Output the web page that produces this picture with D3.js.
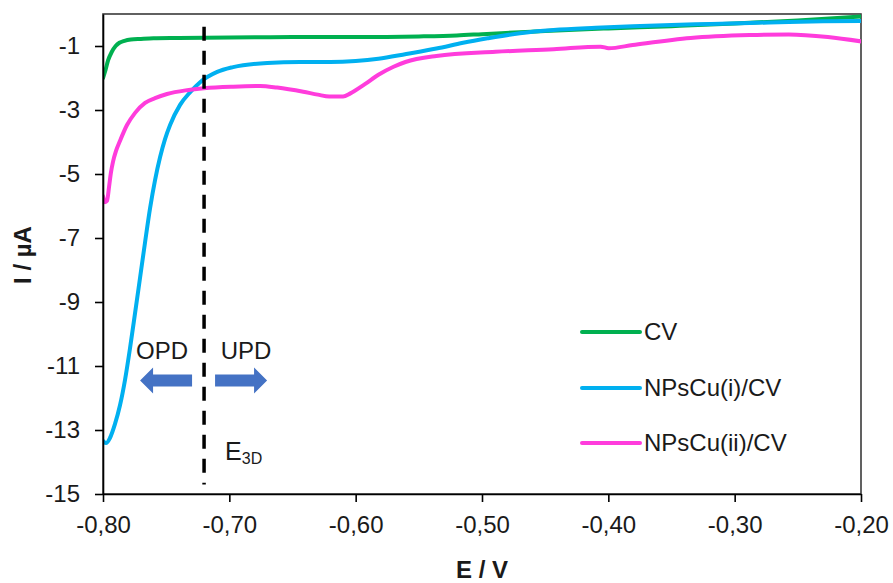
<!DOCTYPE html>
<html><head><meta charset="utf-8">
<script src="https://cdn.jsdelivr.net/npm/d3@7"></script>
<style>body{margin:0;background:#fff}svg{display:block;font-family:"Liberation Sans",Arial,sans-serif}</style>
</head><body><svg id="c" width="893" height="583"></svg>
<script>
// ---- data ----
const cvE = [-0.800,-0.798,-0.796,-0.793,-0.790,-0.787,-0.783,-0.778,-0.770,-0.760,-0.740,-0.720,-0.680,-0.650,-0.600,-0.550,-0.520,-0.500,-0.470,-0.450,-0.400,-0.350,-0.300,-0.250,-0.200];
const cvI = [-2.00,-1.75,-1.45,-1.18,-1.00,-0.90,-0.84,-0.80,-0.78,-0.76,-0.75,-0.74,-0.73,-0.72,-0.72,-0.70,-0.67,-0.63,-0.57,-0.53,-0.45,-0.38,-0.30,-0.20,-0.08];

const npiE = [-0.8000,-0.7976,-0.7945,-0.7905,-0.7865,-0.7826,-0.7786,-0.7746,-0.7707,-0.7667,-0.7627,-0.7588,-0.7548,-0.7509,-0.7469,-0.7390,-0.7310,-0.7231,-0.7096,-0.6970,-0.6700,-0.6439,-0.6200,-0.6000,-0.5820,-0.5600,-0.5361,-0.5150,-0.4956,-0.4700,-0.4433,-0.4100,-0.3807,-0.3500,-0.3189,-0.2880,-0.2571,-0.2300,-0.2000];
const npiI = [-13.34,-13.41,-13.25,-12.81,-12.22,-11.44,-10.44,-9.34,-8.25,-7.13,-6.06,-5.19,-4.47,-3.91,-3.47,-2.84,-2.44,-2.13,-1.81,-1.66,-1.53,-1.50,-1.50,-1.47,-1.40,-1.25,-1.08,-0.90,-0.76,-0.60,-0.50,-0.43,-0.38,-0.34,-0.31,-0.28,-0.25,-0.23,-0.22];

const npiiE = [-0.8000,-0.7984,-0.7968,-0.7952,-0.7937,-0.7921,-0.7897,-0.7865,-0.7810,-0.7746,-0.7667,-0.7588,-0.7493,-0.7334,-0.7200,-0.6970,-0.6756,-0.6621,-0.6415,-0.6300,-0.6209,-0.6100,-0.6042,-0.5930,-0.5820,-0.5700,-0.5606,-0.5361,-0.4893,-0.4433,-0.4061,-0.3997,-0.3807,-0.3348,-0.2880,-0.2571,-0.2262,-0.1992];
const npiiI = [-5.69,-5.88,-5.84,-5.40,-4.95,-4.62,-4.28,-3.96,-3.47,-3.09,-2.78,-2.63,-2.50,-2.38,-2.32,-2.27,-2.25,-2.30,-2.43,-2.52,-2.58,-2.58,-2.48,-2.20,-1.90,-1.65,-1.50,-1.31,-1.18,-1.10,-1.02,-1.07,-0.97,-0.75,-0.66,-0.64,-0.72,-0.86];

const seriesNames = ["CV", "NPsCu(i)/CV", "NPsCu(ii)/CV"];
const xTicks = [-0.80, -0.70, -0.60, -0.50, -0.40, -0.30, -0.20];
const yTicks = [-1, -3, -5, -7, -9, -11, -13, -15];
const e3dPotential = -0.72;
const e3dCurrentRange = [-0.4, -14.7];

// ---- styling ----
const colors = ["#00B050", "#00B0F0", "#FF3CDC"];
const arrowColor = "#4472C4";
const textColor = "#1a1a1a";

const svg = d3.select("#c");
const L = 103, R = 861, T = 14, B = 494;
const x = d3.scaleLinear().domain([-0.8, -0.2]).range([L, R]);
const y = d3.scaleLinear().domain([-15, 0]).range([B, T]);

// plot border
svg.append("rect").attr("x", L).attr("y", T).attr("width", R - L).attr("height", B - T)
  .attr("fill", "none").attr("stroke", "#3a3a3a").attr("stroke-width", 1.6);

svg.append("clipPath").attr("id", "clip").append("rect")
  .attr("x", L).attr("y", T - 3).attr("width", R - L).attr("height", B - T + 3);

// series
const series = [
  {E: cvE, I: cvI},
  {E: npiE, I: npiI},
  {E: npiiE, I: npiiI}
];
const line = d3.line().x(d => x(d[0])).y(d => y(d[1])).curve(d3.curveMonotoneX);
series.forEach((s, i) => {
  const pts = s.E.map((e, k) => [e, s.I[k]]);
  svg.append("path").attr("d", line(pts)).attr("fill", "none")
    .attr("stroke", colors[i]).attr("stroke-width", 4)
    .attr("stroke-linejoin", "round").attr("stroke-linecap", "round")
    .attr("clip-path", "url(#clip)");
});

// E3D dashed line
svg.append("line")
  .attr("x1", x(e3dPotential)).attr("x2", x(e3dPotential))
  .attr("y1", y(e3dCurrentRange[0])).attr("y2", y(e3dCurrentRange[1]))
  .attr("stroke", "#000").attr("stroke-width", 3.5).attr("stroke-dasharray", "14,10");

// axes
const fmt = v => v.toFixed(2).replace(".", ",");
const xAxis = svg.append("g").attr("transform", `translate(0,${B})`)
  .call(d3.axisBottom(x).tickValues(xTicks).tickFormat(fmt).tickSize(8).tickSizeOuter(0).tickPadding(14));
const yAxis = svg.append("g").attr("transform", `translate(${L},0)`)
  .call(d3.axisLeft(y).tickValues(yTicks).tickFormat(d => d).tickSize(8).tickSizeOuter(0).tickPadding(15));
[xAxis, yAxis].forEach(g => {
  g.select(".domain").attr("stroke", "#000").attr("stroke-width", 1.6);
  g.selectAll(".tick line").attr("stroke", "#000").attr("stroke-width", 1.6);
  g.selectAll(".tick text").attr("fill", textColor).style("font-size", "24px")
    .style("font-family", '"Liberation Sans", Arial, sans-serif');
});

// axis titles
svg.append("text").attr("x", (L + R) / 2).attr("y", 578).attr("text-anchor", "middle")
  .attr("font-weight", "bold").attr("font-size", 24).attr("fill", textColor).text("E / V");
svg.append("text").attr("transform", "translate(31,255) rotate(-90)").attr("text-anchor", "middle")
  .attr("font-weight", "bold").attr("font-size", 24).attr("fill", textColor).text("I / µA");

// OPD / UPD arrows
function blockArrow(x0, x1, yc, dir) {
  const sh = 6, hh = 13, hl = 13;
  const xb = x1 - dir * hl;
  const p = [[x0, yc - sh], [xb, yc - sh], [xb, yc - hh], [x1, yc], [xb, yc + hh], [xb, yc + sh], [x0, yc + sh]];
  svg.append("path").attr("d", "M" + p.map(q => q.join(",")).join("L") + "Z").attr("fill", arrowColor);
}
const arrowY = y(-11.45);
blockArrow(x(e3dPotential) - 12, x(e3dPotential) - 64, arrowY, -1);
blockArrow(x(e3dPotential) + 11, x(e3dPotential) + 63, arrowY, 1);

svg.append("text").attr("x", x(e3dPotential) - 42).attr("y", y(-10.78)).attr("text-anchor", "middle")
  .attr("font-size", 24).attr("fill", textColor).text("OPD");
svg.append("text").attr("x", x(e3dPotential) + 42).attr("y", y(-10.78)).attr("text-anchor", "middle")
  .attr("font-size", 24).attr("fill", textColor).text("UPD");
const e3 = svg.append("text").attr("x", x(e3dPotential) + 21).attr("y", y(-13.95))
  .attr("font-size", 25).attr("fill", textColor);
e3.append("tspan").text("E");
e3.append("tspan").attr("font-size", 16).attr("dy", 4).text("3D");

// legend
const legY = [332, 388, 443];
seriesNames.forEach((n, i) => {
  svg.append("line").attr("x1", 582).attr("x2", 640).attr("y1", legY[i]).attr("y2", legY[i])
    .attr("stroke", colors[i]).attr("stroke-width", 4).attr("stroke-linecap", "round");
  svg.append("text").attr("x", 644).attr("y", legY[i]).attr("dy", "0.35em")
    .attr("font-size", 24).attr("fill", textColor).text(n);
});
</script>
</body></html>
